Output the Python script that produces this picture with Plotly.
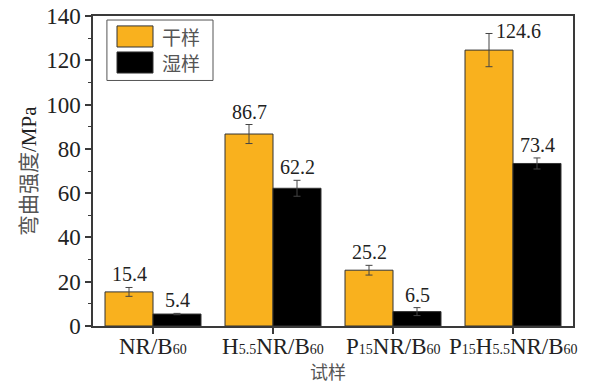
import plotly.graph_objects as go

# Sample groups and flexural strength (MPa)
samples = ["NR/B60", "H5.5NR/B60", "P15NR/B60", "P15H5.5NR/B60"]
sample_labels = [
    "NR/B<span style='font-size:14px'>60</span>",
    "H<span style='font-size:14px'>5.5</span>NR/B<span style='font-size:14px'>60</span>",
    "P<span style='font-size:14px'>15</span>NR/B<span style='font-size:14px'>60</span>",
    "P<span style='font-size:14px'>15</span>H<span style='font-size:14px'>5.5</span>NR/B<span style='font-size:14px'>60</span>",
]
dry_values = [15.4, 86.7, 25.2, 124.6]
dry_errors = [2.0, 4.3, 2.2, 7.5]
wet_values = [5.4, 62.2, 6.5, 73.4]
wet_errors = [0.3, 3.6, 1.8, 2.5]

series_names = ["干样", "湿样"]
dry_color = "#F9B11E"
wet_color = "#000000"

SERIF = "Liberation Serif"
CJK = "Noto Sans CJK SC"
AXIS_COLOR = "#3a3a3a"

fig = go.Figure()
for name, vals, errs, color in [
    (series_names[0], dry_values, dry_errors, dry_color),
    (series_names[1], wet_values, wet_errors, wet_color),
]:
    fig.add_trace(go.Bar(
        x=samples, y=vals, name=name,
        marker=dict(color=color, line=dict(color="#333333", width=1)),
        error_y=dict(type="data", array=errs, color="#444444", thickness=1, width=3.5),
        showlegend=False,
    ))

# Value labels above the error bars
for i, s in enumerate(samples):
    for vals, errs, xs in [(dry_values, dry_errors, -24), (wet_values, wet_errors, 24)]:
        top = vals[i] + errs[i]
        if vals[i] > 100:
            fig.add_annotation(x=s, y=top, text=f"{vals[i]:.1f}", showarrow=False,
                               xshift=xs + 29, yshift=2, yanchor="middle",
                               font=dict(family=SERIF, size=20, color="#222222"))
        else:
            fig.add_annotation(x=s, y=top, text=f"{vals[i]:.1f}", showarrow=False,
                               xshift=xs, yshift=0, yanchor="bottom",
                               font=dict(family=SERIF, size=20, color="#222222"))

# Category labels under each group (with small index numerals)
for s, lab in zip(samples, sample_labels):
    fig.add_annotation(x=s, xref="x", yref="paper", y=0, yshift=-6,
                       text=lab, showarrow=False, xanchor="center", yanchor="top",
                       font=dict(family=SERIF, size=23, color="#222222"))

# Legend drawn as a boxed key
fig.add_shape(type="rect", xref="paper", yref="paper",
              x0=0.029, x1=0.25, y0=0.792, y1=0.987,
              line=dict(color="#555555", width=1), fillcolor="white")
for k, (name, color) in enumerate(zip(series_names, [dry_color, wet_color])):
    y_top = 0.968 - k * 0.084
    fig.add_shape(type="rect", xref="paper", yref="paper",
                  x0=0.05, x1=0.125, y0=y_top - 0.068, y1=y_top,
                  line=dict(color="#333333", width=1), fillcolor=color)
    fig.add_annotation(xref="paper", yref="paper", x=0.14, y=y_top - 0.034,
                       text=name, showarrow=False, xanchor="left", yanchor="middle",
                       font=dict(family=CJK, size=19, color="#555555"))

# Axis titles
fig.add_annotation(xref="paper", yref="paper", x=0, y=0.5, xshift=-66,
                   text="<span style='font-family:Noto Sans CJK SC;color:#555555'>弯曲强度</span>/MPa",
                   textangle=-90, showarrow=False, xanchor="center", yanchor="middle",
                   font=dict(family=SERIF, size=21, color="#222222"))
fig.add_annotation(xref="paper", yref="paper", x=0.49, y=0, yshift=-45,
                   text="试样", showarrow=False, xanchor="center", yanchor="middle",
                   font=dict(family=CJK, size=18, color="#555555"))

fig.update_layout(
    width=593, height=384,
    margin=dict(l=93, r=20, t=16, b=58),
    paper_bgcolor="white", plot_bgcolor="white",
    barmode="group", bargap=0.2, bargroupgap=0,
    font=dict(family=SERIF, size=21, color="#222222"),
    xaxis=dict(
        type="category", range=[-0.5, 3.5], automargin=False,
        tickvals=samples, showticklabels=False,
        ticks="outside", ticklen=6, tickcolor=AXIS_COLOR, tickwidth=1.5,
        showline=True, linecolor=AXIS_COLOR, linewidth=1.5, mirror=True,
    ),
    yaxis=dict(
        range=[0, 140], tickvals=[0, 20, 40, 60, 80, 100, 120, 140], automargin=False,
        ticks="outside", ticklen=6, tickcolor=AXIS_COLOR, tickwidth=1.5,
        minor=dict(tickvals=[10, 30, 50, 70, 90, 110, 130], ticks="outside",
                   ticklen=3, tickcolor=AXIS_COLOR, tickwidth=1),
        showline=True, linecolor=AXIS_COLOR, linewidth=1.5, mirror=True,
        showgrid=False, zeroline=False,
        tickfont=dict(family=SERIF, size=23, color="#222222"),
    ),
)

fig.write_html("out.html")
